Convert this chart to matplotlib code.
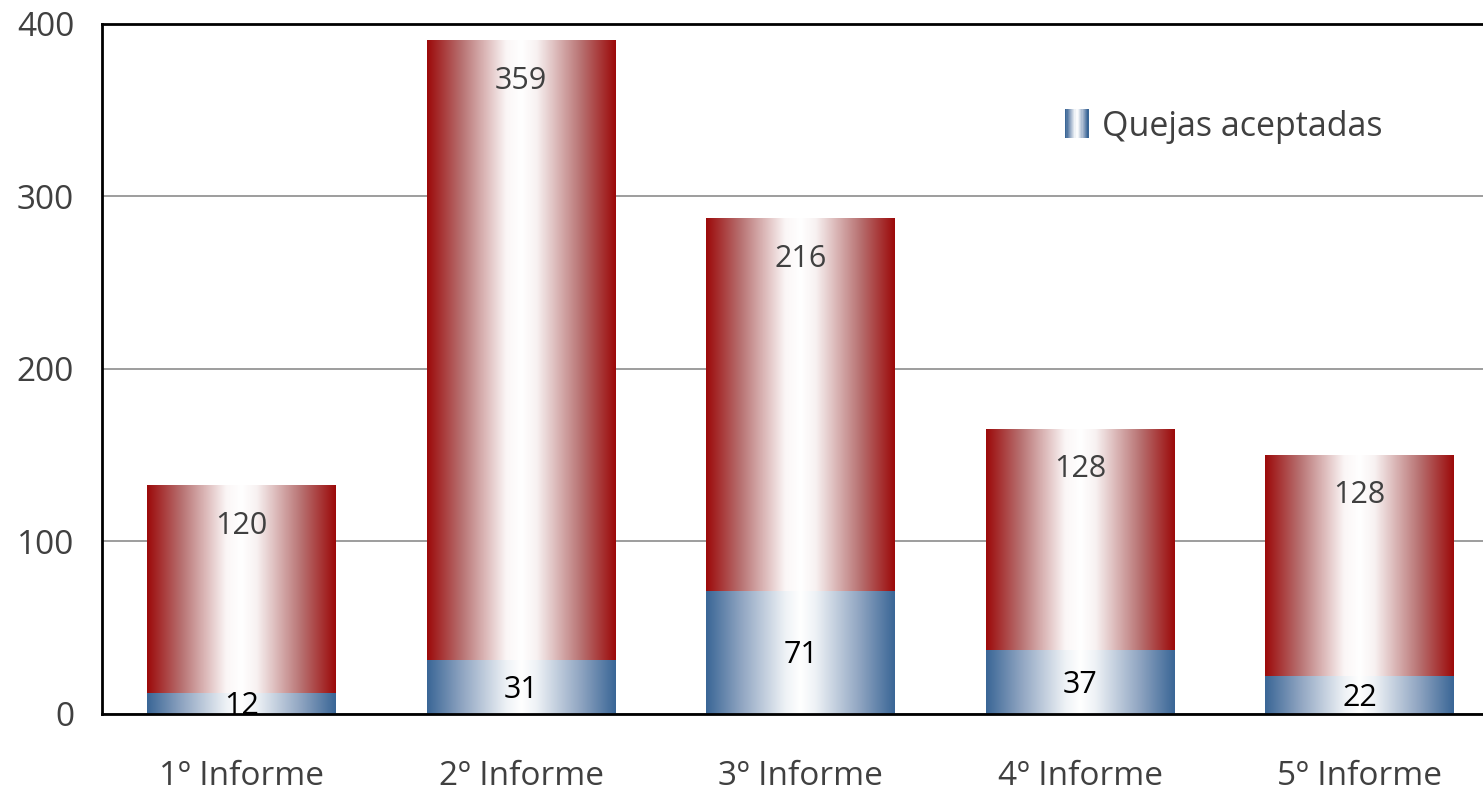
import matplotlib
matplotlib.use("Agg")
import matplotlib.pyplot as plt
import numpy as np
from matplotlib.colors import LinearSegmentedColormap
from matplotlib.patches import Rectangle
from matplotlib.legend_handler import HandlerBase

plt.rcParams["font.family"] = ["Open Sans", "DejaVu Sans"]

categories = ["1º Informe", "2º Informe", "3º Informe", "4º Informe", "5º Informe"]
aceptadas = [12, 31, 71, 37, 22]
otras = [120, 359, 216, 128, 128]
yticks = [0, 100, 200, 300, 400]

red_cmap = LinearSegmentedColormap.from_list(
    "red_grad",
    [(0.0, "#9c0a0a"), (0.18, "#b77070"), (0.42, "#fbf6f6"), (0.5, "#ffffff"),
     (0.58, "#f8f2f2"), (0.82, "#b77070"), (1.0, "#9c0a0a")],
)
blue_cmap = LinearSegmentedColormap.from_list(
    "blue_grad",
    [(0.0, "#3a6696"), (0.18, "#8da3c0"), (0.42, "#eef2f6"), (0.5, "#ffffff"),
     (0.58, "#eef2f6"), (0.82, "#8da3c0"), (1.0, "#3a6696")],
)
grad = np.linspace(0, 1, 256).reshape(1, -1)


def fill_gradient(ax, bars, cmap):
    for b in bars:
        x0, y0 = b.get_x(), b.get_y()
        w, h = b.get_width(), b.get_height()
        ax.imshow(grad, cmap=cmap, aspect="auto", extent=(x0, x0 + w, y0, y0 + h),
                  zorder=2, interpolation="bilinear")
        b.set_facecolor("none")


class GradientHandler(HandlerBase):
    def create_artists(self, legend, orig_handle, xdescent, ydescent, width, height,
                       fontsize, trans):
        n = 20
        w = width * 0.75
        x_start = width - w - xdescent
        arts = []
        for i in range(n):
            c = blue_cmap(i / (n - 1))
            r = Rectangle((x_start + i * w / n, -ydescent - height * 0.1), w / n + 0.3,
                          height * 1.2, facecolor=c, edgecolor="none", transform=trans)
            arts.append(r)
        return arts


fig = plt.figure(figsize=(14.83, 7.95), dpi=100)
# axes run past the right edge of the image, as in the original
ax = fig.add_axes([102 / 1483, 1 - 714 / 795, 1397.5 / 1483, (714 - 23.5) / 795])

x = np.arange(len(categories))
width = 0.676
b1 = ax.bar(x, aceptadas, width, zorder=2, label="Quejas aceptadas")
b2 = ax.bar(x, otras, width, bottom=aceptadas, zorder=2)
fill_gradient(ax, b1, blue_cmap)
fill_gradient(ax, b2, red_cmap)

for i in range(len(categories)):
    ax.annotate(str(aceptadas[i]), (x[i], aceptadas[i] / 2), xytext=(0, -2),
                textcoords="offset points", ha="center", va="center",
                fontsize=22, color="black", zorder=4)
    ax.annotate(str(otras[i]), (x[i], aceptadas[i] + otras[i]), xytext=(0, -29),
                textcoords="offset points", ha="center", va="center",
                fontsize=22, color="#404040", zorder=4)

ax.set_xlim(-0.5, 4.5)
ax.set_ylim(0, 400)
ax.set_yticks(yticks)
ax.set_xticks(x)
ax.set_xticklabels(categories)
ax.tick_params(axis="both", length=0, labelsize=24, labelcolor="#404040")
ax.tick_params(axis="x", pad=33)
ax.tick_params(axis="y", pad=20)
ax.yaxis.grid(True, color="#8c8c8c", linewidth=1.2, zorder=0)
ax.set_axisbelow(True)
for side in ["left", "top", "bottom"]:
    ax.spines[side].set_linewidth(2)
    ax.spines[side].set_color("black")
    ax.spines[side].set_zorder(5)
ax.spines["right"].set_visible(False)

leg = ax.legend(handles=[b1], labels=["Quejas aceptadas"], handler_map={type(b1): GradientHandler()},
                loc="upper left", bbox_to_anchor=((1027 - 102) / 1397.5, (714 - 79) / 690.5),
                frameon=False, fontsize=24.5, handlelength=0.9, handletextpad=0.4,
                labelcolor="#404040")

fig.savefig("out.png", dpi=100)
